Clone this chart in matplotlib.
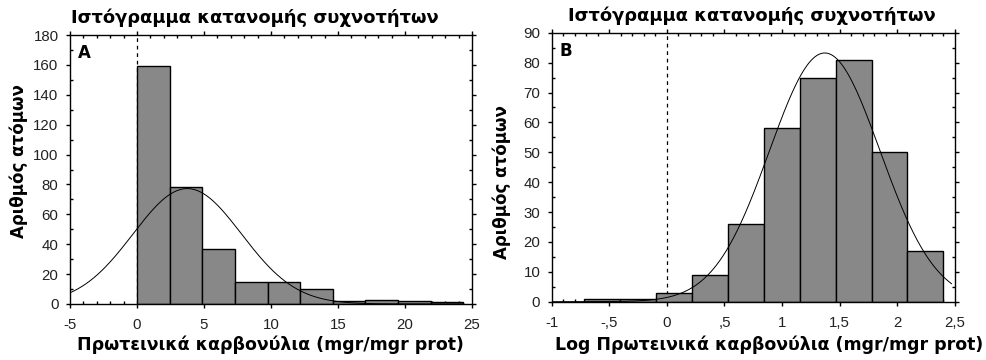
import numpy as np
import matplotlib
matplotlib.use("Agg")
import matplotlib.pyplot as plt
from matplotlib.ticker import MultipleLocator, FuncFormatter

# ---- data ----
title = "Ιστόγραμμα κατανομής συχνοτήτων"
ylabel = "Αριθμός ατόμων"
xlabel_a = "Πρωτεινικά καρβονύλια (mgr/mgr prot)"
xlabel_b = "Log Πρωτεινικά καρβονύλια (mgr/mgr prot)"

a_start = 0.0
a_width = 2.435
a_counts = [159, 78, 37, 15, 15, 10, 2, 3, 2, 1]
a_mean, a_sd = 3.75, 4.05

b_start = -0.72
b_width = 0.312
b_counts = [1, 1, 3, 9, 26, 58, 75, 81, 50, 17]
b_mean, b_sd = 1.37, 0.48


def normal_curve(x, mean, sd, n, w):
    return n * w / (sd * np.sqrt(2 * np.pi)) * np.exp(-0.5 * ((x - mean) / sd) ** 2)


plt.rcParams['font.family'] = ['Liberation Sans', 'DejaVu Sans']
plt.rcParams['axes.unicode_minus'] = False

fig = plt.figure(figsize=(9.86, 3.6), dpi=100)
axA = fig.add_axes([0.071, 0.1556, 0.4077, 0.747])
axB = fig.add_axes([0.5595, 0.162, 0.409, 0.747])


def style(ax, xmaj, xmin, ymaj, ymin, fmt=None):
    ax.xaxis.set_major_locator(MultipleLocator(xmaj))
    ax.xaxis.set_minor_locator(MultipleLocator(xmin))
    ax.yaxis.set_major_locator(MultipleLocator(ymaj))
    ax.yaxis.set_minor_locator(MultipleLocator(ymin))
    ax.tick_params(which='major', direction='out', length=3.2, width=1,
                   top=True, right=True, labelsize=10.8, colors='black',
                   labelcolor='#222222')
    ax.tick_params(axis='x', which='major', pad=7)
    ax.tick_params(axis='y', which='major', pad=5)
    ax.tick_params(which='minor', direction='in', length=2.2, width=1,
                   top=True, right=True)
    for s in ax.spines.values():
        s.set_linewidth(1)
    if fmt is not None:
        ax.xaxis.set_major_formatter(FuncFormatter(fmt))


def draw(ax, start, width, counts, mean, sd, xr, letter):
    lefts = [start + i * width for i in range(len(counts))]
    ax.bar(lefts, counts, width=width, align='edge', color='#888888',
           edgecolor='black', linewidth=1, zorder=2)
    ax.axvline(0, color='black', linestyle=(0, (3, 3)), linewidth=0.9, zorder=1)
    xs = np.linspace(xr[0], xr[1], 400)
    ax.plot(xs, normal_curve(xs, mean, sd, sum(counts), width), color='black',
            linewidth=0.7, zorder=3)
    ax.text(0.02, 0.965, letter, transform=ax.transAxes, fontsize=12,
            fontweight='bold', family='DejaVu Sans', va='top', ha='left')


draw(axA, a_start, a_width, a_counts, a_mean, a_sd, (-5, 24.4), 'A')
axA.set_xlim(-5, 25)
axA.set_ylim(0, 180)
style(axA, 5, 1, 20, 10)


def fmt_b(v, pos):
    if abs(v) < 1e-9:
        return '0'
    s = ('%g' % round(v, 2)).replace('.', ',')
    s = s.replace('0,', ',')
    return s


draw(axB, b_start, b_width, b_counts, b_mean, b_sd, (-1, 2.47), 'B')
axB.set_xlim(-1, 2.5)
axB.set_ylim(0, 90)
style(axB, 0.5, 0.1, 10, 5, fmt_b)

bold = dict(fontweight='bold', family='DejaVu Sans')
fig.text(0.259, 0.952, title, ha='center', va='center', fontsize=12.9, **bold)
fig.text(0.763, 0.955, title, ha='center', va='center', fontsize=12.9, **bold)
fig.text(0.274, 0.042, xlabel_a, ha='center', va='center', fontsize=12.5, **bold)
fig.text(0.78, 0.042, xlabel_b, ha='center', va='center', fontsize=12.5, **bold)
fig.text(0.019, 0.553, ylabel, ha='center', va='center', rotation=90, fontsize=12, **bold)
fig.text(0.509, 0.495, ylabel, ha='center', va='center', rotation=90, fontsize=12, **bold)

fig.savefig('out.png', dpi=100)
